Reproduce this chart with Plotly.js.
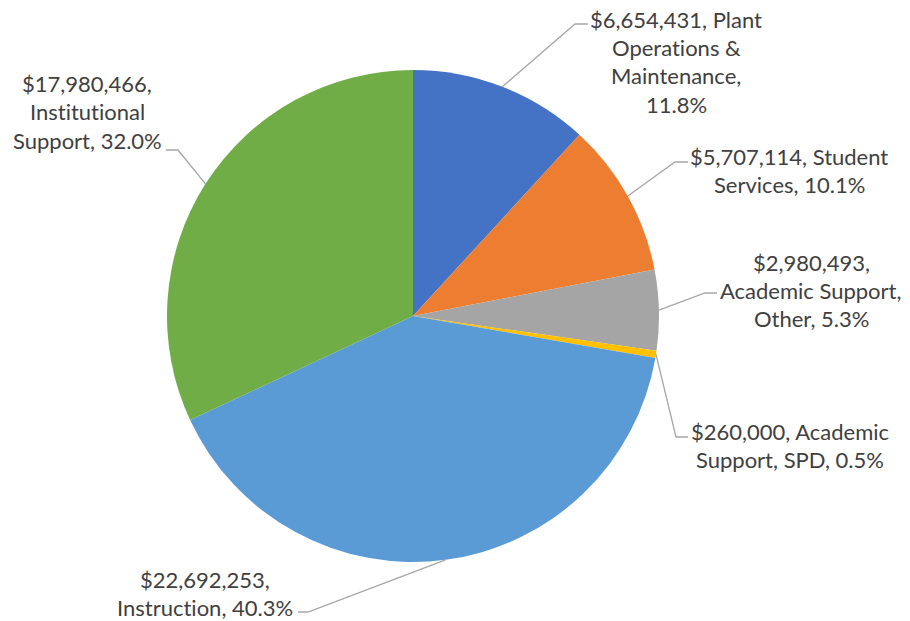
<!DOCTYPE html>
<html>
<head>
<meta charset="utf-8">
<script src="https://cdn.plot.ly/plotly-3.0.1.min.js"></script>
<style>html,body{margin:0;padding:0;background:#fff;}#chart{width:910px;height:621px;}
text{font-variant-ligatures:none;font-feature-settings:"liga" 0;}</style>
</head>
<body>
<div id="chart"></div>
<script>
// ---- data ----
const categories = ["Plant Operations & Maintenance", "Student Services", "Academic Support, Other", "Academic Support, SPD", "Instruction", "Institutional Support"];
const amounts = [6654431, 5707114, 2980493, 260000, 22692253, 17980466];
const colors = ["#4472C4", "#ED7D31", "#A5A5A5", "#FFC000", "#5B9BD5", "#70AD47"];

// ---- layout constants (pixels) ----
const W = 910, H = 621;
const CX = 413, CY = 316, R = 246;
// words per line for each label
const wraps = [[2,2,1,1],[2,2],[1,2,2],[2,3],[1,2],[1,1,2]];
// label block centre (x, y of first line) and leader elbow/end points
const labelPos = [
  {x:676, y:19},
  {x:789, y:156},
  {x:811, y:262},
  {x:790, y:431},
  {x:205, y:579},
  {x:87,  y:83}
];
const elbows = [
  [[575,24],[588,24]],
  [[675,162],[688,162]],
  [[705,293],[717,293]],
  [[676,437],[688,437]],
  [[308,612],[298,612]],
  [[178,150],[166,150]]
];
const LINE_H = 28.5;

const total = amounts.reduce((a,b)=>a+b,0);
const fmt = v => "$" + v.toLocaleString("en-US");
const px = x => x / W;
const py = y => 1 - y / H;

const annotations = [];
const shapes = [];
let cum = 0;
categories.forEach((c, i) => {
  const pct = (amounts[i] / total * 100).toFixed(1) + "%";
  const words = (fmt(amounts[i]) + ", " + c + ", " + pct).split(" ");
  let k = 0;
  wraps[i].forEach((n, li) => {
    const line = words.slice(k, k + n).join(" ");
    k += n;
    annotations.push({
      text: line, xref: "paper", yref: "paper",
      x: px(labelPos[i].x), y: py(labelPos[i].y + li * LINE_H),
      xanchor: "center", yanchor: "middle", showarrow: false,
      borderpad: 0,
      font: {family: "Lato, 'Open Sans', sans-serif", size: 22, color: "#404040"}
    });
  });
  // leader line from slice mid-angle on the rim
  const mid = (cum + amounts[i] / 2) / total * 2 * Math.PI;
  cum += amounts[i];
  const sx = CX + R * Math.sin(mid), sy = CY - R * Math.cos(mid);
  const e = elbows[i];
  shapes.push({
    type: "path", xref: "paper", yref: "paper",
    path: `M ${px(sx)} ${py(sy)} L ${px(e[0][0])} ${py(e[0][1])} L ${px(e[1][0])} ${py(e[1][1])}`,
    line: {color: "#A6A6A6", width: 1.3}
  });
});

const trace = {
  type: "pie",
  labels: categories,
  values: amounts,
  sort: false,
  direction: "clockwise",
  rotation: 0,
  textinfo: "none",
  hoverinfo: "none",
  marker: {colors: colors, line: {width: 0}},
  domain: {x: [px(CX - R), px(CX + R)], y: [py(CY + R), py(CY - R)]},
  showlegend: false
};

Plotly.newPlot("chart", [trace], {
  width: W, height: H,
  margin: {l: 0, r: 0, t: 0, b: 0},
  paper_bgcolor: "#fff",
  annotations: annotations,
  shapes: shapes
}, {staticPlot: true});
</script>
</body>
</html>
